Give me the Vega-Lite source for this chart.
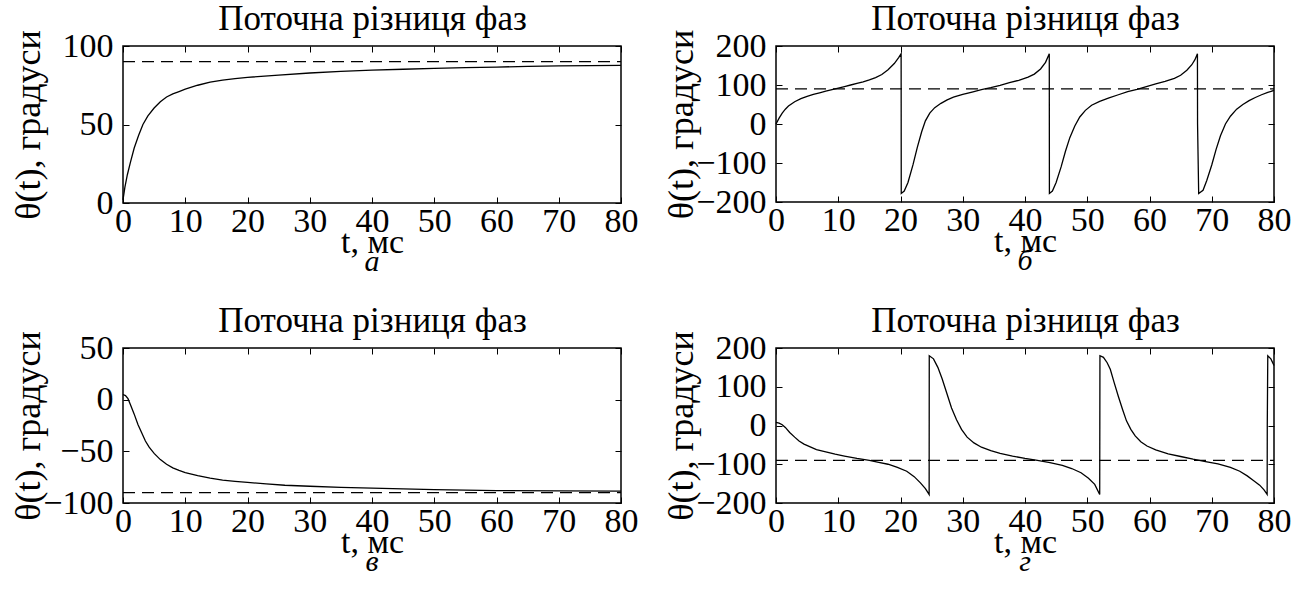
{
  "$schema": "https://vega.github.io/schema/vega-lite/v6.json",
  "background": "white",
  "padding": {"left": 9, "top": 0, "right": 0, "bottom": 0},
  "columns": 2,
  "spacing": {"row": 24, "column": 23},
  "datasets": {
    "a": [
      {"t": 0, "y": 2}, {"t": 0.3, "y": 10}, {"t": 0.7, "y": 18}, {"t": 1.2, "y": 26}, {"t": 1.8, "y": 35},
      {"t": 2.5, "y": 43}, {"t": 3.2, "y": 50}, {"t": 4, "y": 55.5}, {"t": 5, "y": 60.5}, {"t": 6, "y": 64.5},
      {"t": 7, "y": 67.5}, {"t": 8, "y": 69.5}, {"t": 9, "y": 71}, {"t": 10, "y": 72.5}, {"t": 12, "y": 75},
      {"t": 14, "y": 77}, {"t": 16, "y": 78.2}, {"t": 18, "y": 79.2}, {"t": 20, "y": 80}, {"t": 25, "y": 81.5},
      {"t": 30, "y": 82.8}, {"t": 35, "y": 83.8}, {"t": 40, "y": 84.6}, {"t": 45, "y": 85.2}, {"t": 50, "y": 85.8},
      {"t": 55, "y": 86.2}, {"t": 60, "y": 86.6}, {"t": 65, "y": 87}, {"t": 70, "y": 87.3}, {"t": 75, "y": 87.5},
      {"t": 80, "y": 87.7}
    ],
    "a_ref": [{"t": 0, "y": 90}, {"t": 80, "y": 90}],
    "b": [
      {"t": 0, "y": 0}, {"t": 0.5, "y": 15}, {"t": 1, "y": 28}, {"t": 1.5, "y": 38}, {"t": 2, "y": 46},
      {"t": 3, "y": 57}, {"t": 4, "y": 65}, {"t": 5, "y": 71}, {"t": 6, "y": 76}, {"t": 7, "y": 80},
      {"t": 8, "y": 84}, {"t": 9, "y": 88}, {"t": 10, "y": 92}, {"t": 11, "y": 96}, {"t": 12, "y": 100},
      {"t": 13, "y": 104}, {"t": 14, "y": 108}, {"t": 15, "y": 113}, {"t": 16, "y": 119}, {"t": 17, "y": 127},
      {"t": 18, "y": 139}, {"t": 19, "y": 155}, {"t": 19.7, "y": 170}, {"t": 20.1, "y": 180}, {"t": 20.12, "y": -178},
      {"t": 20.6, "y": -172}, {"t": 21.2, "y": -150}, {"t": 22, "y": -105}, {"t": 22.7, "y": -60}, {"t": 23.4, "y": -20},
      {"t": 24, "y": 8}, {"t": 24.7, "y": 28}, {"t": 25.5, "y": 42}, {"t": 26.5, "y": 53}, {"t": 27.5, "y": 62},
      {"t": 28.5, "y": 69}, {"t": 30, "y": 76}, {"t": 31.5, "y": 82}, {"t": 33, "y": 88}, {"t": 34.5, "y": 93},
      {"t": 36, "y": 99}, {"t": 37.5, "y": 106}, {"t": 39, "y": 112}, {"t": 40.5, "y": 120}, {"t": 41.5, "y": 128},
      {"t": 42.5, "y": 141}, {"t": 43.3, "y": 158}, {"t": 43.9, "y": 180}, {"t": 43.92, "y": -178}, {"t": 44.4, "y": -172},
      {"t": 45, "y": -150}, {"t": 45.8, "y": -110}, {"t": 46.5, "y": -70}, {"t": 47.2, "y": -35}, {"t": 48, "y": -5},
      {"t": 48.8, "y": 18}, {"t": 49.7, "y": 35}, {"t": 50.7, "y": 48}, {"t": 52, "y": 58}, {"t": 53.5, "y": 67},
      {"t": 55, "y": 75}, {"t": 56.5, "y": 83}, {"t": 58, "y": 89}, {"t": 59.5, "y": 96}, {"t": 61, "y": 103},
      {"t": 62.5, "y": 109}, {"t": 64, "y": 117}, {"t": 65, "y": 125}, {"t": 66, "y": 138}, {"t": 66.8, "y": 152},
      {"t": 67.3, "y": 165}, {"t": 67.7, "y": 180}, {"t": 67.72, "y": 0}, {"t": 67.9, "y": -178}, {"t": 68.6, "y": -170},
      {"t": 69.2, "y": -145}, {"t": 70, "y": -105}, {"t": 70.7, "y": -65}, {"t": 71.4, "y": -30}, {"t": 72.2, "y": 0},
      {"t": 73, "y": 20}, {"t": 74, "y": 38}, {"t": 75, "y": 50}, {"t": 76, "y": 60}, {"t": 77, "y": 68},
      {"t": 78, "y": 75}, {"t": 79, "y": 81}, {"t": 80, "y": 86}
    ],
    "b_ref": [{"t": 0, "y": 90}, {"t": 80, "y": 90}],
    "c": [
      {"t": 0, "y": 5}, {"t": 0.4, "y": 4}, {"t": 0.8, "y": 1}, {"t": 1.2, "y": -5}, {"t": 1.8, "y": -14},
      {"t": 2.4, "y": -24}, {"t": 3, "y": -32}, {"t": 3.6, "y": -40}, {"t": 4.2, "y": -46}, {"t": 5, "y": -52},
      {"t": 6, "y": -58}, {"t": 7, "y": -62.5}, {"t": 8, "y": -66}, {"t": 9, "y": -68.5}, {"t": 10, "y": -70.5},
      {"t": 12, "y": -73.5}, {"t": 14, "y": -76}, {"t": 16, "y": -77.8}, {"t": 18, "y": -79}, {"t": 20, "y": -80},
      {"t": 23, "y": -81.5}, {"t": 26, "y": -82.8}, {"t": 30, "y": -83.8}, {"t": 35, "y": -84.8}, {"t": 40, "y": -85.7},
      {"t": 45, "y": -86.4}, {"t": 50, "y": -87}, {"t": 55, "y": -87.5}, {"t": 60, "y": -88}, {"t": 70, "y": -88.3},
      {"t": 80, "y": -88.5}
    ],
    "c_ref": [{"t": 0, "y": -90}, {"t": 80, "y": -90}],
    "d": [
      {"t": 0, "y": 8}, {"t": 0.5, "y": 6}, {"t": 1, "y": 2}, {"t": 1.5, "y": -5}, {"t": 2.2, "y": -18},
      {"t": 3, "y": -30}, {"t": 3.7, "y": -40}, {"t": 4.5, "y": -48}, {"t": 5.5, "y": -55}, {"t": 6.5, "y": -62},
      {"t": 8, "y": -68}, {"t": 9.5, "y": -74}, {"t": 11, "y": -79}, {"t": 13, "y": -85}, {"t": 15, "y": -90},
      {"t": 16.5, "y": -95}, {"t": 18, "y": -100}, {"t": 19.5, "y": -108}, {"t": 21, "y": -118}, {"t": 22.2, "y": -132},
      {"t": 23.2, "y": -148}, {"t": 24, "y": -163}, {"t": 24.6, "y": -178}, {"t": 24.62, "y": 180}, {"t": 25.3, "y": 172},
      {"t": 26, "y": 150}, {"t": 26.7, "y": 120}, {"t": 27.4, "y": 85}, {"t": 28.2, "y": 45}, {"t": 29, "y": 15},
      {"t": 29.8, "y": -10}, {"t": 30.7, "y": -30}, {"t": 31.8, "y": -45}, {"t": 33, "y": -56}, {"t": 34.5, "y": -65},
      {"t": 36, "y": -72}, {"t": 38, "y": -79}, {"t": 40, "y": -85}, {"t": 42, "y": -90}, {"t": 44, "y": -96},
      {"t": 46, "y": -103}, {"t": 47.5, "y": -111}, {"t": 49, "y": -122}, {"t": 50.2, "y": -136}, {"t": 51.2, "y": -152},
      {"t": 52, "y": -178}, {"t": 52.02, "y": 0}, {"t": 52.04, "y": 180}, {"t": 52.6, "y": 176}, {"t": 53.2, "y": 162},
      {"t": 53.7, "y": 145}, {"t": 54.3, "y": 112}, {"t": 55, "y": 75}, {"t": 55.7, "y": 40}, {"t": 56.3, "y": 12},
      {"t": 57, "y": -10}, {"t": 57.7, "y": -27}, {"t": 58.6, "y": -42}, {"t": 59.6, "y": -53}, {"t": 61, "y": -63},
      {"t": 63, "y": -73}, {"t": 65, "y": -80}, {"t": 67, "y": -87}, {"t": 69, "y": -93}, {"t": 71, "y": -99},
      {"t": 73, "y": -108}, {"t": 74.5, "y": -118}, {"t": 75.7, "y": -130}, {"t": 76.8, "y": -143}, {"t": 77.7, "y": -154},
      {"t": 78.4, "y": -166}, {"t": 78.9, "y": -178}, {"t": 78.92, "y": 0}, {"t": 79, "y": 180},
      {"t": 79.5, "y": 172}, {"t": 80, "y": 155}
    ],
    "d_ref": [{"t": 0, "y": -90}, {"t": 80, "y": -90}]
  },
  "concat": [
    {
      "width": 498, "height": 157,
      "title": {"text": "а", "orient": "bottom", "frame": "group", "anchor": "middle", "baseline": "top", "offset": -12},
      "layer": [
        {"data": {"name": "a"}, "mark": {"type": "line", "color": "black", "strokeWidth": 1.3},
         "encoding": {
           "x": {"field": "t", "type": "quantitative", "scale": {"domain": [0, 80], "nice": false},
                 "axis": {"orient": "bottom", "values": [0, 10, 20, 30, 40, 50, 60, 70, 80], "title": "t, мс", "labelPadding": 7, "titlePadding": -13}},
           "y": {"field": "y", "type": "quantitative", "scale": {"domain": [0, 100], "nice": false},
                 "axis": {"orient": "left", "values": [0, 50, 100], "title": "θ(t), градуси", "titleFontSize": 36, "labelPadding": 16, "minExtent": 78, "maxExtent": 78, "titlePadding": -2}}
         }},
        {"data": {"name": "a_ref"}, "mark": {"type": "line", "color": "black", "strokeWidth": 1.3, "strokeDash": [12, 7]},
         "encoding": {
           "x": {"field": "t", "type": "quantitative", "axis": {"orient": "top", "values": [0, 10, 20, 30, 40, 50, 60, 70, 80], "labels": false, "title": "Поточна різниця фаз", "titleFontSize": 35, "minExtent": 0, "maxExtent": 0, "titlePadding": 10}},
           "y": {"field": "y", "type": "quantitative", "axis": {"orient": "right", "values": [0, 50, 100], "labels": false, "title": null, "minExtent": 0, "maxExtent": 0}}
         }}
      ]
    },
    {
      "width": 498, "height": 156,
      "title": {"text": "б", "orient": "bottom", "frame": "group", "anchor": "middle", "baseline": "top", "offset": -12},
      "layer": [
        {"data": {"name": "b"}, "mark": {"type": "line", "color": "black", "strokeWidth": 1.3},
         "encoding": {
           "x": {"field": "t", "type": "quantitative", "scale": {"domain": [0, 80], "nice": false},
                 "axis": {"orient": "bottom", "values": [0, 10, 20, 30, 40, 50, 60, 70, 80], "title": "t, мс", "labelPadding": 7, "titlePadding": -13}},
           "y": {"field": "y", "type": "quantitative", "scale": {"domain": [-200, 200], "nice": false},
                 "axis": {"orient": "left", "values": [-200, -100, 0, 100, 200], "title": "θ(t), градуси", "titleFontSize": 36, "labelPadding": 16, "minExtent": 78, "maxExtent": 78, "titlePadding": -2}}
         }},
        {"data": {"name": "b_ref"}, "mark": {"type": "line", "color": "black", "strokeWidth": 1.3, "strokeDash": [12, 7]},
         "encoding": {
           "x": {"field": "t", "type": "quantitative", "axis": {"orient": "top", "values": [0, 10, 20, 30, 40, 50, 60, 70, 80], "labels": false, "title": "Поточна різниця фаз", "titleFontSize": 35, "minExtent": 0, "maxExtent": 0, "titlePadding": 10}},
           "y": {"field": "y", "type": "quantitative", "axis": {"orient": "right", "values": [-200, -100, 0, 100, 200], "labels": false, "title": null, "minExtent": 0, "maxExtent": 0}}
         }}
      ]
    },
    {
      "width": 498, "height": 155,
      "title": {"text": "в", "orient": "bottom", "frame": "group", "anchor": "middle", "baseline": "top", "offset": -12},
      "layer": [
        {"data": {"name": "c"}, "mark": {"type": "line", "color": "black", "strokeWidth": 1.3},
         "encoding": {
           "x": {"field": "t", "type": "quantitative", "scale": {"domain": [0, 80], "nice": false},
                 "axis": {"orient": "bottom", "values": [0, 10, 20, 30, 40, 50, 60, 70, 80], "title": "t, мс", "labelPadding": 7, "titlePadding": -13}},
           "y": {"field": "y", "type": "quantitative", "scale": {"domain": [-100, 50], "nice": false},
                 "axis": {"orient": "left", "values": [-100, -50, 0, 50], "title": "θ(t), градуси", "titleFontSize": 36, "labelPadding": 16, "minExtent": 78, "maxExtent": 78, "titlePadding": -2}}
         }},
        {"data": {"name": "c_ref"}, "mark": {"type": "line", "color": "black", "strokeWidth": 1.3, "strokeDash": [12, 7]},
         "encoding": {
           "x": {"field": "t", "type": "quantitative", "axis": {"orient": "top", "values": [0, 10, 20, 30, 40, 50, 60, 70, 80], "labels": false, "title": "Поточна різниця фаз", "titleFontSize": 35, "minExtent": 0, "maxExtent": 0, "titlePadding": 10}},
           "y": {"field": "y", "type": "quantitative", "axis": {"orient": "right", "values": [-100, -50, 0, 50], "labels": false, "title": null, "minExtent": 0, "maxExtent": 0}}
         }}
      ]
    },
    {
      "width": 498, "height": 155,
      "title": {"text": "г", "orient": "bottom", "frame": "group", "anchor": "middle", "baseline": "top", "offset": -12},
      "layer": [
        {"data": {"name": "d"}, "mark": {"type": "line", "color": "black", "strokeWidth": 1.3},
         "encoding": {
           "x": {"field": "t", "type": "quantitative", "scale": {"domain": [0, 80], "nice": false},
                 "axis": {"orient": "bottom", "values": [0, 10, 20, 30, 40, 50, 60, 70, 80], "title": "t, мс", "labelPadding": 7, "titlePadding": -13}},
           "y": {"field": "y", "type": "quantitative", "scale": {"domain": [-200, 200], "nice": false},
                 "axis": {"orient": "left", "values": [-200, -100, 0, 100, 200], "title": "θ(t), градуси", "titleFontSize": 36, "labelPadding": 16, "minExtent": 78, "maxExtent": 78, "titlePadding": -2}}
         }},
        {"data": {"name": "d_ref"}, "mark": {"type": "line", "color": "black", "strokeWidth": 1.3, "strokeDash": [12, 7]},
         "encoding": {
           "x": {"field": "t", "type": "quantitative", "axis": {"orient": "top", "values": [0, 10, 20, 30, 40, 50, 60, 70, 80], "labels": false, "title": "Поточна різниця фаз", "titleFontSize": 35, "minExtent": 0, "maxExtent": 0, "titlePadding": 10}},
           "y": {"field": "y", "type": "quantitative", "axis": {"orient": "right", "values": [-200, -100, 0, 100, 200], "labels": false, "title": null, "minExtent": 0, "maxExtent": 0}}
         }}
      ]
    }
  ],
  "config": {
    "font": "Liberation Serif",
    "view": {"stroke": "black", "strokeWidth": 1.5},
    "axis": {
      "grid": false, "domain": false, "tickColor": "black", "tickSize": -6, "tickWidth": 1,
      "labelColor": "black", "labelFont": "Liberation Serif", "labelFontSize": 34, "labelFlush": false, "labelOverlap": false,
      "titleColor": "black", "titleFont": "Liberation Serif", "titleFontSize": 34, "titleFontWeight": "normal"
    },
    "title": {"font": "Liberation Serif", "fontSize": 30, "fontStyle": "italic", "fontWeight": "normal", "color": "black"}
  }
}
